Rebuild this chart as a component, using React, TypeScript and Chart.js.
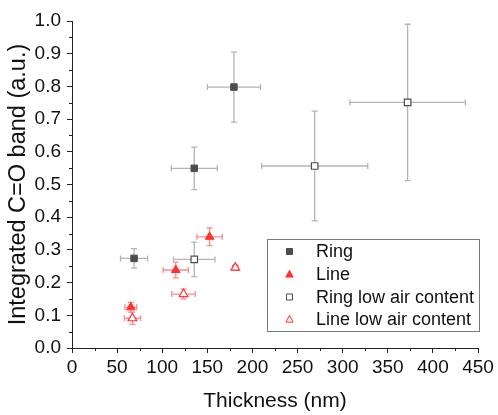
import React, { useEffect, useRef } from 'react';
import { Chart, registerables } from 'chart.js';

Chart.register(...registerables);

// ---- data ----
const xTickValues = [0, 50, 100, 150, 200, 250, 300, 350, 400, 450];
const yTickValues = [0, 0.1, 0.2, 0.3, 0.4, 0.5, 0.6, 0.7, 0.8, 0.9, 1.0];

const ringX = [68.8, 135.5, 179.5];
const ringY = [0.274, 0.5495, 0.798];
const ringXErr = [15, 25.5, 29.4];
const ringYErr = [0.03, 0.065, 0.107];

const lineX = [65.2, 115, 152.5];
const lineY = [0.1245, 0.2385, 0.34];
const lineXErr = [6.5, 14, 14];
const lineYErr = [0.015, 0.024, 0.027];

const ringLowX = [135.5, 269, 372];
const ringLowY = [0.271, 0.5566, 0.751];
const ringLowXErr = [23, 58.8, 64];
const ringLowYErr = [0.053, 0.168, 0.239];

const lineLowX = [67, 123.6, 181];
const lineLowY = [0.091, 0.165, 0.2456];
const lineLowXErr = [9, 13, 3];
const lineLowYErr = [0.019, 0.015, 0.008];

const seriesNames = ['Ring', 'Line', 'Ring low air content', 'Line low air content'];

const FONT = "'Liberation Sans', Arial, Helvetica, sans-serif";
const AXIS_COLOR = '#222222';
const GRAY = '#4d4d4d';
const RED = '#ff3333';
const GRAY_ERR = '#b4b4b4';
const RED_ERR = '#ff8c8c';

const toPoints = (xs: number[], ys: number[]) => xs.map((x, i) => ({ x, y: ys[i] }));

const errorSets = [
  { xe: ringXErr, ye: ringYErr, color: GRAY_ERR },
  { xe: lineXErr, ye: lineYErr, color: RED_ERR },
  { xe: ringLowXErr, ye: ringLowYErr, color: GRAY_ERR },
  { xe: lineLowXErr, ye: lineLowYErr, color: RED_ERR },
];

const errorBarPlugin = {
  id: 'errorBars',
  beforeDatasetsDraw(chart: any) {
    const ctx = chart.ctx;
    const xs = chart.scales.x;
    const ys = chart.scales.y;
    const cap = 3;
    chart.data.datasets.forEach((ds: any, di: number) => {
      const e = errorSets[di];
      ctx.save();
      ctx.strokeStyle = e.color;
      ctx.lineWidth = 1.3;
      ds.data.forEach((p: any, i: number) => {
        const px = xs.getPixelForValue(p.x);
        const py = ys.getPixelForValue(p.y);
        const x1 = xs.getPixelForValue(p.x - e.xe[i]);
        const x2 = xs.getPixelForValue(p.x + e.xe[i]);
        const y1 = ys.getPixelForValue(p.y - e.ye[i]);
        const y2 = ys.getPixelForValue(p.y + e.ye[i]);
        ctx.beginPath();
        ctx.moveTo(x1, py); ctx.lineTo(x2, py);
        ctx.moveTo(x1, py - cap); ctx.lineTo(x1, py + cap);
        ctx.moveTo(x2, py - cap); ctx.lineTo(x2, py + cap);
        ctx.moveTo(px, y1); ctx.lineTo(px, y2);
        ctx.moveTo(px - cap, y1); ctx.lineTo(px + cap, y1);
        ctx.moveTo(px - cap, y2); ctx.lineTo(px + cap, y2);
        ctx.stroke();
      });
      ctx.restore();
    });
  },
};

const minorTickPlugin = {
  id: 'minorTicks',
  afterDraw(chart: any) {
    const ctx = chart.ctx;
    const xs = chart.scales.x;
    const ys = chart.scales.y;
    const area = chart.chartArea;
    ctx.save();
    ctx.strokeStyle = AXIS_COLOR;
    ctx.lineWidth = 1;
    ctx.beginPath();
    for (let i = 0; i < xTickValues.length - 1; i++) {
      const v = (xTickValues[i] + xTickValues[i + 1]) / 2;
      const px = Math.round(xs.getPixelForValue(v)) + 0.5;
      ctx.moveTo(px, area.bottom);
      ctx.lineTo(px, area.bottom + 3);
    }
    for (let i = 0; i < yTickValues.length - 1; i++) {
      const v = (yTickValues[i] + yTickValues[i + 1]) / 2;
      const py = Math.round(ys.getPixelForValue(v)) + 0.5;
      ctx.moveTo(area.left, py);
      ctx.lineTo(area.left - 3, py);
    }
    ctx.stroke();
    ctx.restore();
  },
};

const legendPlugin = {
  id: 'boxLegend',
  afterDraw(chart: any) {
    const ctx = chart.ctx;
    const left = 267, top = 239, right = 480, bottom = 332;
    ctx.save();
    ctx.fillStyle = '#ffffff';
    ctx.fillRect(left, top, right - left, bottom - top);
    ctx.strokeStyle = '#7a7a7a';
    ctx.lineWidth = 1;
    ctx.strokeRect(left + 0.5, top + 0.5, right - left - 1, bottom - top - 1);
    const rowY = [251.5, 274.5, 297, 319.5];
    const mx = 289.5;
    seriesNames.forEach((name, i) => {
      const y = rowY[i];
      ctx.lineWidth = 1;
      if (i === 0 || i === 2) {
        const s = 3;
        ctx.beginPath();
        ctx.rect(mx - s, y - s, 2 * s, 2 * s);
        ctx.fillStyle = i === 0 ? GRAY : '#ffffff';
        ctx.fill();
        ctx.strokeStyle = GRAY;
        ctx.stroke();
      } else {
        const r = 4.2;
        ctx.beginPath();
        ctx.moveTo(mx, y - r);
        ctx.lineTo(mx + r * 0.866, y + r * 0.5 + 0.5);
        ctx.lineTo(mx - r * 0.866, y + r * 0.5 + 0.5);
        ctx.closePath();
        ctx.fillStyle = i === 1 ? RED : '#ffffff';
        ctx.fill();
        ctx.strokeStyle = RED;
        ctx.stroke();
      }
      ctx.fillStyle = '#111111';
      ctx.font = `18px ${FONT}`;
      ctx.textBaseline = 'middle';
      ctx.textAlign = 'left';
      ctx.fillText(name, 316, y + 1);
    });
    ctx.restore();
  },
};

export default function App() {
  const canvasRef = useRef<HTMLCanvasElement | null>(null);

  useEffect(() => {
    if (!canvasRef.current) return;
    const chart = new Chart(canvasRef.current, {
      type: 'scatter',
      data: {
        datasets: [
          {
            label: seriesNames[0],
            data: toPoints(ringX, ringY),
            pointStyle: 'rect',
            pointRadius: 4.6,
            backgroundColor: GRAY,
            borderColor: GRAY,
            borderWidth: 1,
          },
          {
            label: seriesNames[1],
            data: toPoints(lineX, lineY),
            pointStyle: 'triangle',
            pointRadius: 5,
            backgroundColor: RED,
            borderColor: RED,
            borderWidth: 1,
          },
          {
            label: seriesNames[2],
            data: toPoints(ringLowX, ringLowY),
            pointStyle: 'rect',
            pointRadius: 4.6,
            backgroundColor: '#ffffff',
            borderColor: GRAY,
            borderWidth: 1.2,
          },
          {
            label: seriesNames[3],
            data: toPoints(lineLowX, lineLowY),
            pointStyle: 'triangle',
            pointRadius: 5,
            backgroundColor: '#ffffff',
            borderColor: RED,
            borderWidth: 1.2,
          },
        ],
      },
      options: {
        responsive: false,
        animation: false,
        devicePixelRatio: 1,
        layout: { padding: { top: 21, right: 20, left: 0, bottom: 0 } },
        plugins: {
          legend: { display: false },
          tooltip: { enabled: false },
        },
        scales: {
          x: {
            type: 'linear',
            min: 0,
            max: 450,
            afterFit: (s: any) => { s.height = 67; },
            afterBuildTicks: (s: any) => { s.ticks = xTickValues.map((v) => ({ value: v })); },
            grid: {
              display: true,
              drawOnChartArea: false,
              drawTicks: true,
              tickLength: 5,
              tickColor: AXIS_COLOR,
            },
            border: { display: true, color: AXIS_COLOR, width: 1 },
            ticks: {
              autoSkip: false,
              maxRotation: 0,
              padding: 3,
              color: '#111111',
              font: { family: FONT, size: 19 },
              callback: (v: any) => String(v),
            },
            title: {
              display: true,
              text: 'Thickness (nm)',
              color: '#111111',
              font: { family: FONT, size: 21 },
              padding: { top: 0, bottom: 1 },
            },
          },
          y: {
            type: 'linear',
            min: 0,
            max: 1,
            afterFit: (s: any) => { s.width = 72; },
            afterBuildTicks: (s: any) => { s.ticks = yTickValues.map((v) => ({ value: v })); },
            grid: {
              display: true,
              drawOnChartArea: false,
              drawTicks: true,
              tickLength: 5,
              tickColor: AXIS_COLOR,
            },
            border: { display: true, color: AXIS_COLOR, width: 1 },
            ticks: {
              autoSkip: false,
              padding: 6,
              color: '#111111',
              font: { family: FONT, size: 19 },
              callback: (v: any) => Number(v).toFixed(1),
            },
            title: {
              display: true,
              text: 'Integrated C=O band (a.u.)',
              color: '#111111',
              font: { family: FONT, size: 23.5 },
              padding: { top: 4, bottom: 0 },
            },
          },
        },
      },
      plugins: [errorBarPlugin, minorTickPlugin, legendPlugin],
    });
    return () => chart.destroy();
  }, []);

  return (
    <div style={{ position: 'fixed', left: 0, top: 0, width: 498, height: 415, background: '#ffffff' }}>
      <canvas ref={canvasRef} width={498} height={415} style={{ display: 'block', width: 498, height: 415 }} />
    </div>
  );
}
